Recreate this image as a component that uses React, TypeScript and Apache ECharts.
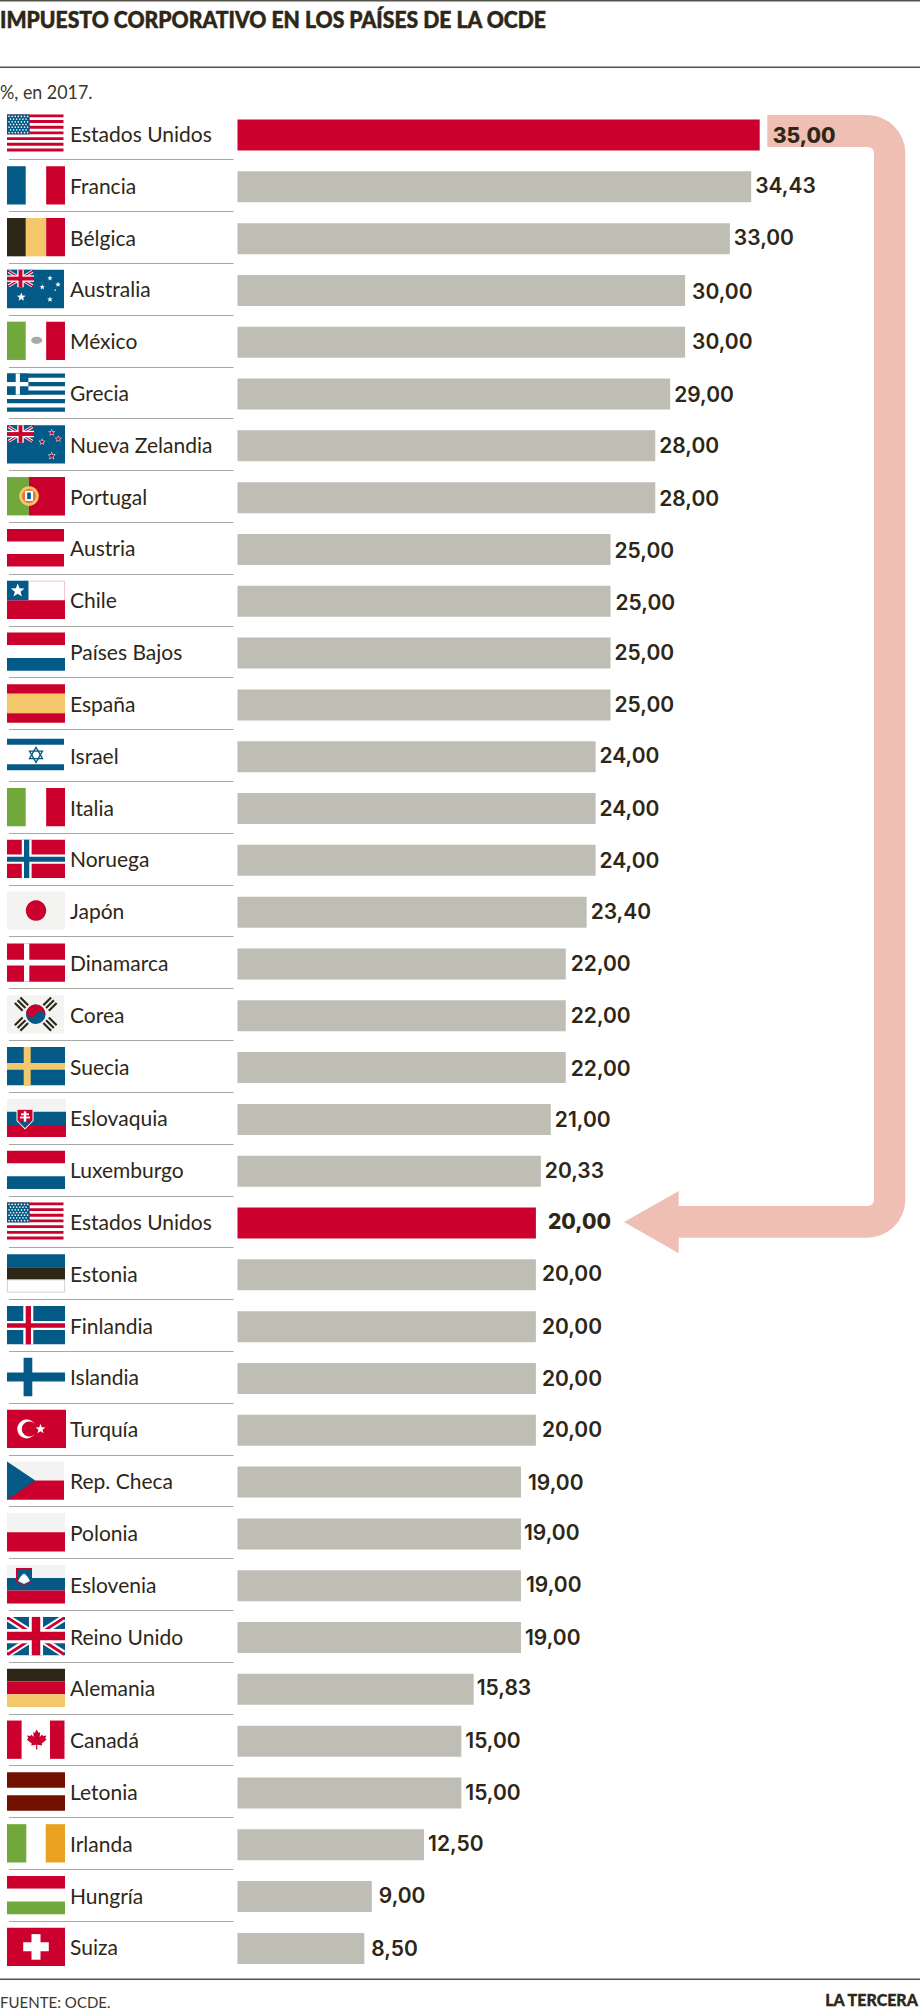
import React, { useEffect, useRef } from "react";
import * as echarts from "echarts";

const titleText = "IMPUESTO CORPORATIVO EN LOS PAÍSES DE LA OCDE";
const subtitleText = "%, en 2017.";
const sourceText = "FUENTE: OCDE.";
const brandText = "LA TERCERA";

const countries = ["Estados Unidos","Francia","Bélgica","Australia","México","Grecia","Nueva Zelandia","Portugal","Austria","Chile","Países Bajos","España","Israel","Italia","Noruega","Japón","Dinamarca","Corea","Suecia","Eslovaquia","Luxemburgo","Estados Unidos","Estonia","Finlandia","Islandia","Turquía","Rep. Checa","Polonia","Eslovenia","Reino Unido","Alemania","Canadá","Letonia","Irlanda","Hungría","Suiza"];
const rates = [35,34.43,33,30,30,29,28,28,25,25,25,25,24,24,24,23.4,22,22,22,21,20.33,20,20,20,20,20,19,19,19,19,15.83,15,15,12.5,9,8.5];
const flagCodes = ["us","fr","be","au","mx","gr","nz","pt","at","cl","nl","es","il","it","no","jp","dk","kr","se","sk","lu","us","ee","is","fi","tr","cz","pl","si","gb","de","ca","lv","ie","hu","ch"];
const highlightedRows = [0, 21];
const labelGaps = [13,4,4,7,7,4,4,4,4,5,4,4,4,4,4,4,5,5,5,4,4,12,6,6,6,6,7,3,5,4,3,4,4,4,7,7];
const labelShifts = [0,-1,-1,1,-1,0,0,1,1,1,-1,0,-1,0,0,-1,0,0,1,0,-1,-2,-1,0,0,-1,0,-1,-1,0,-2,-1,0,-1,-1,0];

const RED = "#cb002c", BLUE = "#045a86", GREEN = "#70a83b", YEL = "#f4c76a", DARK = "#2e2718", OFF = "#f3f3f1", WHITE = "#ffffff";
const FONT = "Lato";
const FW = 58, FH = 38.3;

const rect = (x: number, y: number, width: number, height: number, fill: string) => ({ type: "rect", shape: { x, y, width, height }, style: { fill } });
const circ = (cx: number, cy: number, r: number, fill: string) => ({ type: "circle", shape: { cx, cy, r }, style: { fill } });
const poly = (points: number[][], fill: string) => ({ type: "polygon", shape: { points }, style: { fill } });
const star = (cx: number, cy: number, R: number, fill: string) => {
  const pts: number[][] = [];
  for (let i = 0; i < 10; i++) {
    const r = i % 2 ? R * 0.42 : R;
    const a = -Math.PI / 2 + (i * Math.PI) / 5;
    pts.push([cx + r * Math.cos(a), cy + r * Math.sin(a)]);
  }
  return poly(pts, fill);
};
const vBands = (a: string, b: string, c: string, w = FW) => [rect(0, 0, w / 3 - 0.5, FH, a), rect(w / 3 - 0.5, 0, w / 3 + 1, FH, b), rect((2 * w) / 3 + 0.5, 0, w / 3 - 0.5, FH, c)];
const hBands = (a: string, b: string, c: string) => [rect(0, 0, FW, FH / 3, a), rect(0, FH / 3, FW, FH / 3, b), rect(0, (2 * FH) / 3, FW, FH / 3, c)];
const diag = (x0: number, y0: number, x1: number, y1: number, t: number, fill: string) => {
  const dx = x1 - x0, dy = y1 - y0, l = Math.hypot(dx, dy);
  const nx = (-dy / l) * t, ny = (dx / l) * t;
  return poly([[x0 + nx, y0 + ny], [x1 + nx, y1 + ny], [x1 - nx, y1 - ny], [x0 - nx, y0 - ny]], fill);
};
const union = (w: number, h: number) => {
  const s = h / 38;
  return {
    type: "group",
    children: [
      rect(0, 0, w, h, BLUE),
      diag(1.5, 1.5, w - 1.5, h - 1.5, 3.4 * s, WHITE), diag(w - 1.5, 1.5, 1.5, h - 1.5, 3.4 * s, WHITE),
      diag(1, 1, w - 1, h - 1, 1.4 * s, RED), diag(w - 1, 1, 1, h - 1, 1.4 * s, RED),
      rect(w / 2 - 7 * s, 0, 14 * s, h, WHITE), rect(0, h / 2 - 7 * s, w, 14 * s, WHITE),
      rect(w / 2 - 4.2 * s, 0, 8.4 * s, h, RED), rect(0, h / 2 - 4.2 * s, w, 8.4 * s, RED),
    ],
  };
};
const crossFlag = (bg: string, vx: number, vw: number, hy: number, hh: number, fill: string) => [rect(0, 0, FW, FH, bg), rect(vx, 0, vw, FH, fill), rect(0, hy, FW, hh, fill)];
const trigram = (cx: number, cy: number, deg: number) => ({
  type: "group", x: cx, y: cy, rotation: (deg * Math.PI) / 180,
  children: [rect(-5.5, -5, 11, 2.2, DARK), rect(-5.5, -1.1, 11, 2.2, DARK), rect(-5.5, 2.8, 11, 2.2, DARK)],
});
const mapleLeaf = [[0,-10],[2,-6.5],[3.5,-7.5],[3,-2.5],[5.5,-5],[6.2,-3.5],[9.5,-4],[8.5,-1],[10,0],[5,4],[5.5,6],[0.6,5.3],[0.6,10],[-0.6,10],[-0.6,5.3],[-5.5,6],[-5,4],[-10,0],[-8.5,-1],[-9.5,-4],[-6.2,-3.5],[-5.5,-5],[-3,-2.5],[-3.5,-7.5],[-2,-6.5]];

function flag(code: string): any[] {
  switch (code) {
    case "us": {
      const out: any[] = [];
      const sh = 37 / 13;
      for (let i = 0; i < 13; i += 2) out.push(rect(0, i * sh, 56.5, sh, RED));
      out.push(rect(0, 0, 22.7, 20, BLUE));
      for (let r = 0; r < 7; r++) for (let c = 0; c < (r % 2 ? 6 : 7); c++) out.push(circ(2 + c * 3.1 + (r % 2 ? 1.5 : 0), 2 + r * 2.7, 0.75, WHITE));
      return out;
    }
    case "fr": return vBands(BLUE, WHITE, RED);
    case "be": return vBands(DARK, YEL, RED);
    case "au": return [rect(0, 0, 57, FH, BLUE), union(27, 17.5), star(43, 8.3, 2.8, WHITE), star(51, 14.7, 2.8, WHITE), star(35.3, 17.3, 2.8, WHITE), star(48.3, 20.3, 1.2, WHITE), star(43, 29.6, 3, WHITE), star(14.3, 27.3, 4.6, WHITE)];
    case "mx": return [...vBands(GREEN, WHITE, RED), { type: "ellipse", shape: { cx: 29.7, cy: 18.7, rx: 5.5, ry: 3.6 }, style: { fill: "#a9aaa4" } }];
    case "gr": {
      const s = FH / 9;
      const out: any[] = [];
      for (let i = 0; i < 9; i += 2) out.push(rect(0, i * s, FW, s, BLUE));
      out.push(rect(0, 0, 21.4, 5 * s, BLUE), rect(8.7, 0, 4.2, 5 * s, WHITE), rect(0, 8.6, 21.4, 4.2, WHITE));
      return out;
    }
    case "nz": return [rect(0, 0, FW, FH, BLUE), union(27, 17.5), ...[[44.7, 7.3], [51.3, 13.7], [35, 16.7], [44.7, 30.7]].flatMap(([x, y], i) => [star(x, y, i === 3 ? 4.4 : 3.8, WHITE), star(x, y, i === 3 ? 3.2 : 2.7, RED)])];
    case "pt": return [rect(0, 0, 22, FH, GREEN), rect(22, 0, 36, FH, RED), circ(22, 19, 9.8, YEL), circ(22, 19, 7, "#e8763a"), rect(18, 13.8, 8, 10, WHITE), rect(20.2, 15.5, 3.6, 6.5, BLUE)];
    case "at": return [rect(0, 0, 57, 12.7, RED), rect(0, 25, 57, 12.7, RED)];
    case "cl": return [rect(0, 19.5, FW, FH - 19.5, RED), rect(0, 0, 21.5, 19.5, BLUE), star(10.7, 10, 7.2, WHITE), { type: "polyline", shape: { points: [[21.5, 0.4], [57.6, 0.4], [57.6, 19.5]] }, style: { stroke: "#eeb2c0", fill: "none", lineWidth: 0.8 } }];
    case "nl": case "lu": return hBands(RED, WHITE, BLUE);
    case "es": return [rect(0, 0, FW, 9.5, RED), rect(0, 9.5, FW, 19.3, YEL), rect(0, 28.8, FW, 9.5, RED)];
    case "il": {
      const tri = (sgn: number) => ({ type: "polygon", shape: { points: [[29, 18.7 - sgn * 7.5], [35.5, 18.7 + sgn * 3.75], [22.5, 18.7 + sgn * 3.75]] }, style: { fill: "none", stroke: BLUE, lineWidth: 1.3 } });
      return [rect(0, 2.7, 57, 6, BLUE), rect(0, 28, 57, 6, BLUE), tri(1), tri(-1)];
    }
    case "it": return vBands(GREEN, WHITE, RED);
    case "no": return [...crossFlag(RED, 14.8, 9.8, 14.7, 9.3, WHITE), rect(17, 0, 5.3, FH, BLUE), rect(0, 17, FW, 4.9, BLUE)];
    case "jp": return [rect(0, 0, FW, FH, OFF), circ(29, 19, 10.2, RED)];
    case "dk": return crossFlag(RED, 17, 5.3, 16.3, 5.7, WHITE);
    case "kr": return [
      rect(0, 0, 57, FH, OFF),
      {
        type: "group", x: 28.7, y: 19, rotation: -0.4,
        children: [
          circ(0, 0, 9.7, BLUE),
          { type: "sector", shape: { cx: 0, cy: 0, r: 9.7, r0: 0, startAngle: Math.PI, endAngle: 2 * Math.PI }, style: { fill: RED } },
          circ(-4.85, 0, 4.85, RED), circ(4.85, 0, 4.85, BLUE),
        ],
      },
      trigram(14.5, 9, -45), trigram(43, 9, 45), trigram(14.5, 29, 45), trigram(43, 29, -45),
    ];
    case "se": return crossFlag(BLUE, 16.7, 7, 16, 6.7, YEL);
    case "sk": return [rect(0, 0, 59, 13, OFF), rect(0, 13, 59, 13.3, BLUE), rect(0, 26.3, 59, 12, RED), poly([[9.5, 10], [26.5, 10], [26.5, 22], [18, 30.7], [9.5, 22]], WHITE), poly([[10.5, 11], [25.5, 11], [25.5, 21.5], [18, 29.2], [10.5, 21.5]], RED), rect(16.8, 12.5, 2.4, 11, WHITE), rect(14, 14.6, 8, 1.8, WHITE), rect(13, 17.8, 10, 1.8, WHITE), poly([[11.5, 23], [24.5, 23], [18, 29], [11.5, 23]], BLUE)];
    case "ee": return [rect(0, 0, FW, 13, BLUE), rect(0, 13, FW, 12.6, DARK), { type: "rect", shape: { x: 0.4, y: 25.6, width: 57.2, height: 12.3 }, style: { fill: WHITE, stroke: "#c8c8c2", lineWidth: 0.8 } }];
    case "is": return [...crossFlag(BLUE, 16.3, 10, 15, 9, WHITE), rect(18.7, 0, 5.3, FH, RED), rect(0, 17.3, FW, 4.4, RED)];
    case "fi": return [rect(16.6, 0, 8.7, FH, BLUE), rect(0, 14.7, FW, 9, BLUE)];
    case "tr": return [rect(0, 0, 59, FH, RED), circ(19.7, 19.3, 9.4, WHITE), circ(22.4, 19.3, 7.6, RED), star(33.5, 19.3, 5.2, WHITE)];
    case "cz": return [rect(0, 0, 57, 19, OFF), rect(0, 19, 57, 19.3, RED), poly([[0, 0], [28.3, 19], [0, 38.3]], BLUE)];
    case "pl": return [rect(0, 0, FW, 19, OFF), rect(0, 19, FW, 19.3, RED)];
    case "si": return [rect(0, 0, FW, 12.8, OFF), rect(0, 12.8, FW, 12.7, BLUE), rect(0, 25.5, FW, 12.8, RED), poly([[9, 3], [25, 3], [25, 17], [17, 21], [9, 17]], RED), poly([[10, 4], [24, 4], [24, 16.5], [17, 20], [10, 16.5]], BLUE), poly([[11, 16], [14, 11], [17, 8.5], [20, 11], [23, 16], [17, 19]], WHITE)];
    case "gb": return [union(FW, FH)];
    case "de": return hBands(DARK, RED, YEL);
    case "ca": return [rect(0, 0, 14.6, FH, RED), rect(43, 0, 14.5, FH, RED), poly(mapleLeaf.map(([x, y]) => [x + 29.7, y + 19]), RED)];
    case "lv": return [rect(0, 0, FW, 15.3, "#721100"), rect(0, 23, FW, 15.3, "#721100")];
    case "ie": return [rect(0, 0, 19.3, FH, GREEN), rect(38.7, 0, 19.3, FH, "#e9a11f")];
    case "hu": return hBands(RED, WHITE, GREEN);
    case "ch": return [rect(0, 0, FW, FH, RED), rect(16.2, 14.5, 25.6, 9, WHITE), rect(24.5, 6.3, 9, 25.6, WHITE)];
    default: return [];
  }
}

const arrowPath = "M767.3 115 H867.3 A38 38 0 0 1 905.3 153 V1199.7 A38 38 0 0 1 867.3 1237.7 H678.7 V1253.3 L624 1222 L678.7 1191 V1206 H868 A6 6 0 0 0 874 1200 V153 A6 6 0 0 0 868 147 H767.3 Z";
echarts.graphic.registerShape("usArrow", echarts.graphic.extendPath(arrowPath, {}));

const headText = (x: number, y: number, text: string, fontSize: number, fontWeight: any, fill: string, scaleX = 1, textAlign = "left", heavy = 0) => ({
  type: "text", x, y, scaleX, z: 5,
  style: { text, fontFamily: FONT, fontSize, fontWeight, fill, textAlign, textVerticalAlign: "middle", stroke: heavy ? fill : undefined, lineWidth: heavy },
});
const rule = (y: number) => ({ type: "rect", shape: { x: 0, y, width: 920, height: 1.4 }, style: { fill: "#55524a" }, z: 5 });

export default function App() {
  const ref = useRef<HTMLDivElement>(null);
  useEffect(() => {
    const chart = echarts.init(ref.current!, undefined, { renderer: "svg" });
    chart.setOption({
      animation: false,
      backgroundColor: "#ffffff",
      grid: { left: 237.5, top: 109.1, width: 596.8, height: 1865.2, containLabel: false },
      xAxis: { type: "value", min: 0, max: 40, show: false },
      yAxis: {
        type: "category", inverse: true, data: countries,
        axisLine: { show: false }, axisTick: { show: false },
        axisLabel: { interval: 0, align: "left", verticalAlign: "bottom", lineHeight: 3, margin: 167.5, color: "#2e2718", fontFamily: FONT, fontSize: 21, fontWeight: 400 },
      },
      graphic: [
        { type: "usArrow", x: 0, y: 0, z: 0, style: { fill: "#f0bfb3" } },
        rule(0), rule(66.6), rule(1978.6),
        headText(0, 19, titleText, 22.5, 900, "#2e2718", 0.94, "left", 0.5),
        headText(0, 92, subtitleText, 19, 400, "#3b382c", 0.94),
        headText(0, 2002, sourceText, 16, 400, "#3b382c", 0.94),
        headText(918, 1999, brandText, 16, 900, "#2e2718", 1, "right", 0.3),
      ],
      series: [
        {
          type: "custom", coordinateSystem: "cartesian2d", silent: true, z: 1, clip: false,
          encode: { x: 0, y: 1 },
          data: countries.map((_, i) => [0, i]),
          renderItem: (params: any, api: any) => {
            const i = params.dataIndex;
            const [x0, yc] = api.coord([0, i]);
            const children: any[] = [{ type: "group", x: x0 - 230.5, y: yc - 20.6, children: flag(flagCodes[i]) }];
            if (i < countries.length - 1) {
              const yl = Math.round(yc + 24.3) + 0.5;
              children.push({ type: "line", shape: { x1: 9, y1: yl, x2: 233.5, y2: yl }, style: { stroke: "#a8a8a2", lineWidth: 1 } });
            }
            return { type: "group", children };
          },
        },
        {
          type: "bar", barWidth: 31, z: 2,
          data: rates.map((value, i) => {
            const hi = highlightedRows.includes(i);
            return {
              value,
              itemStyle: { color: hi ? RED : "#bebeb4" },
              label: {
                show: true, position: "right", distance: labelGaps[i], offset: [0, labelShifts[i]],
                formatter: (p: any) => p.value.toFixed(2).replace(".", ","),
                color: "#2e2718", fontFamily: "Inter", fontSize: 21, fontWeight: hi ? 800 : 600,
              },
            };
          }),
        },
      ],
    });
    return () => chart.dispose();
  }, []);
  return <div ref={ref} style={{ position: "absolute", left: 0, top: 0, width: 920, height: 2012, background: "#fff" }} />;
}
